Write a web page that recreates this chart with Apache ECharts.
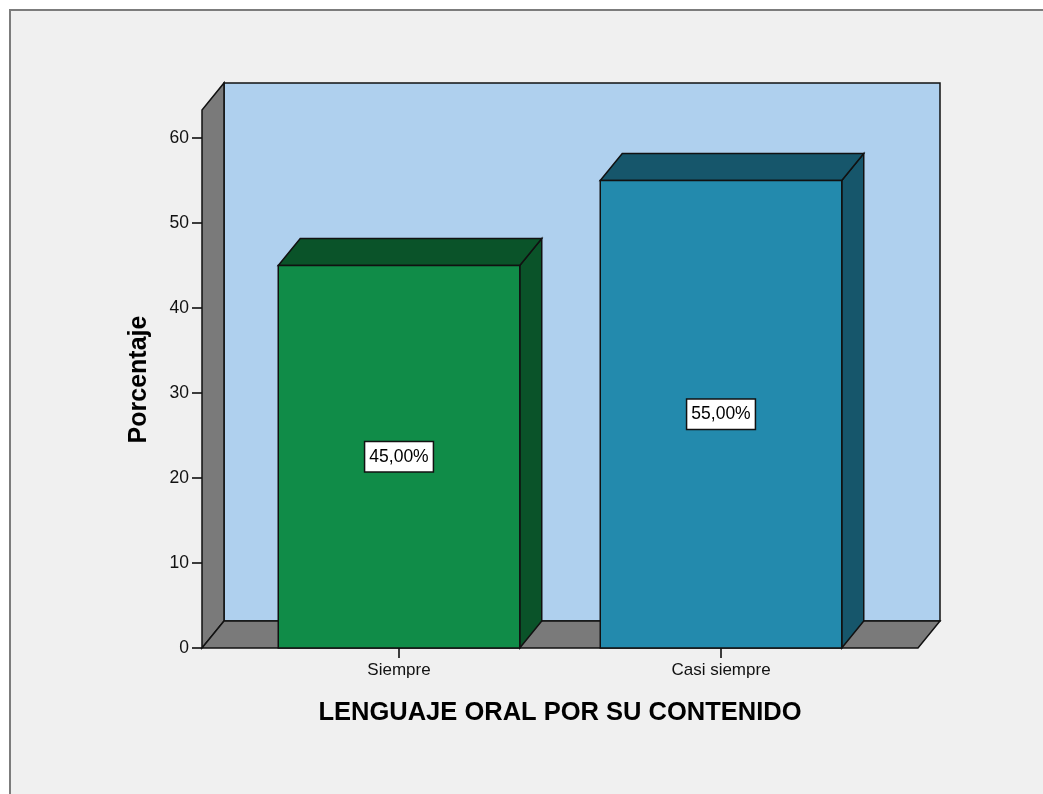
<!DOCTYPE html>
<html>
<head>
<meta charset="utf-8">
<script src="https://cdn.jsdelivr.net/npm/echarts@6/dist/echarts.min.js"></script>
<style>
html,body{margin:0;padding:0;background:#ffffff;}
#chart{width:1043px;height:794px;}
</style>
</head>
<body>
<div id="chart"></div>
<script>
// ---- data ----
var categories = ['Siempre', 'Casi siempre'];
var percentValues = [45, 55];
var yTicks = [0, 10, 20, 30, 40, 50, 60];
var xTitle = 'LENGUAJE ORAL POR SU CONTENIDO';
var yTitle = 'Porcentaje';

// ---- style ----
var BAR_FRONT = ['#108c48', '#238aad'];
var BAR_DARK = ['#0a5329', '#16566b'];
var DX = 22, DY = -27;          // depth offset (px)
var WALL_TOP = 63.3;            // wall height in axis units
var SIDE_PAD = 36;              // floor extends beyond the category bands (px)
var FONT = '"Liberation Sans", Arial, sans-serif';

var chart = echarts.init(document.getElementById('chart'));

function fmt(v) { return v.toFixed(2).replace('.', ',') + '%'; }

var option = {
  backgroundColor: '#ffffff',
  animation: false,
  graphic: [{
    type: 'rect', z: -10,
    shape: { x: 10, y: 10, width: 1100, height: 900 },
    style: { fill: '#f0f0f0', stroke: '#7c7c7c', lineWidth: 2 }
  }],
  grid: { left: 238, right: 161, top: 138, bottom: 146 },
  xAxis: {
    type: 'category',
    data: categories,
    axisLine: { show: false },
    axisTick: { show: true, alignWithLabel: true, length: 10, lineStyle: { color: '#000', width: 1.5 } },
    axisLabel: { color: '#111', fontSize: 17, fontFamily: FONT, margin: 14 },
    name: xTitle,
    nameLocation: 'middle',
    nameGap: 52,
    nameTextStyle: { color: '#000', fontSize: 25.5, fontWeight: 'bold', fontFamily: FONT }
  },
  yAxis: {
    type: 'value',
    min: yTicks[0],
    max: yTicks[yTicks.length - 1],
    interval: 10,
    offset: SIDE_PAD,
    axisLine: { show: false },
    splitLine: { show: false },
    axisTick: { show: true, length: 10, lineStyle: { color: '#000', width: 1.5 } },
    axisLabel: { color: '#111', fontSize: 17.5, fontFamily: FONT, margin: 13 },
    name: yTitle,
    nameLocation: 'middle',
    nameGap: 50,
    nameTextStyle: { color: '#000', fontSize: 25, fontWeight: 'bold', fontFamily: FONT, padding: [0, 0, 0, 27] }
  },
  series: [
    {
      type: 'custom',
      z: 1,
      clip: false,
      silent: true,
      data: [[0, 0]],
      renderItem: function (params, api) {
        var band = api.size([1, 0])[0];
        var c0 = api.coord([0, 0]);
        var c1 = api.coord([categories.length - 1, 0]);
        var xl = c0[0] - band / 2 - SIDE_PAD;
        var xr = c1[0] + band / 2 + SIDE_PAD;
        var yb = c0[1];
        var yt = api.coord([0, WALL_TOP])[1];
        var stroke = { stroke: '#111', lineWidth: 1.5 };
        return {
          type: 'group',
          children: [
            { type: 'rect', shape: { x: xl + DX, y: yt + DY, width: xr - xl, height: yb - yt },
              style: Object.assign({ fill: '#afd0ee' }, stroke) },
            { type: 'polygon', shape: { points: [[xl, yb], [xl, yt], [xl + DX, yt + DY], [xl + DX, yb + DY]] },
              style: Object.assign({ fill: '#7a7a7a' }, stroke) },
            { type: 'polygon', shape: { points: [[xl, yb], [xr, yb], [xr + DX, yb + DY], [xl + DX, yb + DY]] },
              style: Object.assign({ fill: '#7a7a7a' }, stroke) }
          ]
        };
      }
    },
    {
      type: 'custom',
      z: 2,
      clip: false,
      data: categories.map(function (c, i) { return [i, percentValues[i]]; }),
      renderItem: function (params, api) {
        var i = api.value(0), v = api.value(1);
        var top = api.coord([i, v]);
        var bot = api.coord([i, 0]);
        var w = api.size([1, 0])[0] * 0.75;
        var x0 = top[0] - w / 2, x1 = top[0] + w / 2, yt = top[1], yb = bot[1];
        var st = { stroke: '#111', lineWidth: 1.5 };
        return {
          type: 'group',
          children: [
            { type: 'polygon', shape: { points: [[x1, yb], [x1 + DX, yb + DY], [x1 + DX, yt + DY], [x1, yt]] },
              style: Object.assign({ fill: BAR_DARK[i] }, st) },
            { type: 'polygon', shape: { points: [[x0, yt], [x0 + DX, yt + DY], [x1 + DX, yt + DY], [x1, yt]] },
              style: Object.assign({ fill: BAR_DARK[i] }, st) },
            { type: 'rect', shape: { x: x0, y: yt, width: w, height: yb - yt },
              style: Object.assign({ fill: BAR_FRONT[i] }, st) },
            { type: 'text', x: top[0], y: (yt + yb) / 2,
              style: { text: fmt(v), font: '17.5px ' + FONT, fill: '#000', align: 'center', verticalAlign: 'middle',
                       backgroundColor: '#ffffff', borderColor: '#111', borderWidth: 1.5, padding: [6, 4, 5, 4] } }
          ]
        };
      }
    }
  ]
};
chart.setOption(option);
</script>
</body>
</html>
